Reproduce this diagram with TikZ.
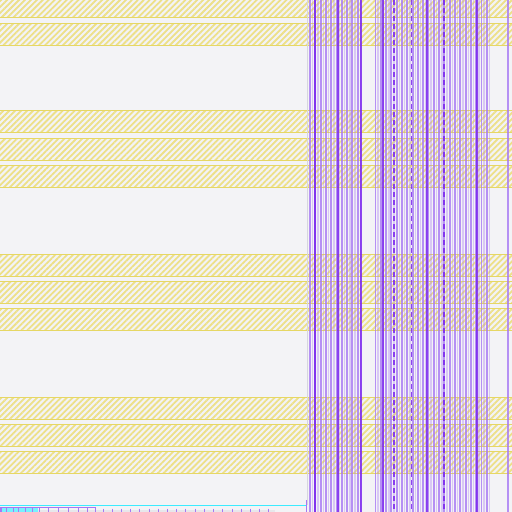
\documentclass[tikz,border=0pt]{standalone}
\usetikzlibrary{patterns.meta}
\definecolor{bg}{HTML}{F3F3F6}
\definecolor{hatch}{HTML}{EDE088}
\definecolor{bandline}{HTML}{E6D764}
\definecolor{plight}{HTML}{A678F4}
\definecolor{pdark}{HTML}{7A26EE}
\definecolor{cyanl}{HTML}{3CEBFF}
\definecolor{edge}{HTML}{D6D6DE}
\begin{document}
\begin{tikzpicture}[x=1pt,y=-1pt,
  band/.style={pattern={Lines[angle=45,distance=4.2pt,line width=1.8pt]},pattern color=hatch},
  bandedge/.style={draw=bandline,line width=1pt},
  vmed/.style={draw=plight,line width=1.9pt,opacity=0.8},
  vfaint/.style={draw=plight,line width=1.5pt,opacity=0.35},
  vdark/.style={draw=pdark,line width=1.4pt,opacity=0.85},
  vdash/.style={draw=pdark,line width=1.4pt,dash pattern=on 5pt off 3pt,opacity=0.85},
  tick/.style={draw=plight,line width=1pt}]
\useasboundingbox (0,0) rectangle (512,512);
\fill[bg] (0,0) rectangle (512,512);
% hatched bands
\foreach \t/\b in {-10/17,23/45,110/132,138/160,165/187,254/276,281/303,308/330,397/419,424/446,451/473}{
  \path[band] (0,\t) rectangle (512,\b);
  \draw[bandedge] (0,\t) -- (512,\t);
  \draw[bandedge] (0,\b) -- (512,\b);
}
% separating edge
\draw[edge,line width=0.8pt] (307,0) -- (307,505);
% vertical line groups
\foreach \k in {0,...,19}{
  \pgfmathsetmacro{\xx}{310+2.65*\k}
  \pgfmathtruncatemacro{\odd}{mod(\k,2)}
  \ifnum\odd=0 \draw[vmed] (\xx,0) -- (\xx,512); \else \draw[vfaint] (\xx,0) -- (\xx,512); \fi
}
\foreach \k in {0,...,43}{
  \pgfmathsetmacro{\xx}{375.5+2.65*\k}
  \pgfmathtruncatemacro{\odd}{mod(\k,2)}
  \ifnum\odd=0 \draw[vmed] (\xx,0) -- (\xx,512); \else \draw[vfaint] (\xx,0) -- (\xx,512); \fi
}
\draw[vmed] (508,0) -- (508,512);
\foreach \xx in {315,338,361,383,427,477}{
  \draw[vdark] (\xx,0) -- (\xx,512);
}
\foreach \xx in {394,411.5,444}{
  \draw[vdash] (\xx,0) -- (\xx,512);
}
% bottom strip
\fill[edge!60] (0,510) rectangle (275,512);
\draw[cyanl,line width=1.2pt] (0,505.5) -- (306,505.5);
\draw[plight,line width=1pt] (306,500) -- (306,512);
\fill[cyanl!70] (0,507.5) rectangle (38,512);
\draw[plight,line width=1pt] (0,507.5) rectangle (95,513);
\foreach \xx in {1,6,13,18,25,32,39,48,58,68,78,87}{
  \draw[tick] (\xx,507.5) -- (\xx,512);
}
\foreach \k in {0,...,18}{
  \draw[tick] ({103+9.22*\k},508.5) -- ({103+9.22*\k},512);
}
\end{tikzpicture}
\end{document}
